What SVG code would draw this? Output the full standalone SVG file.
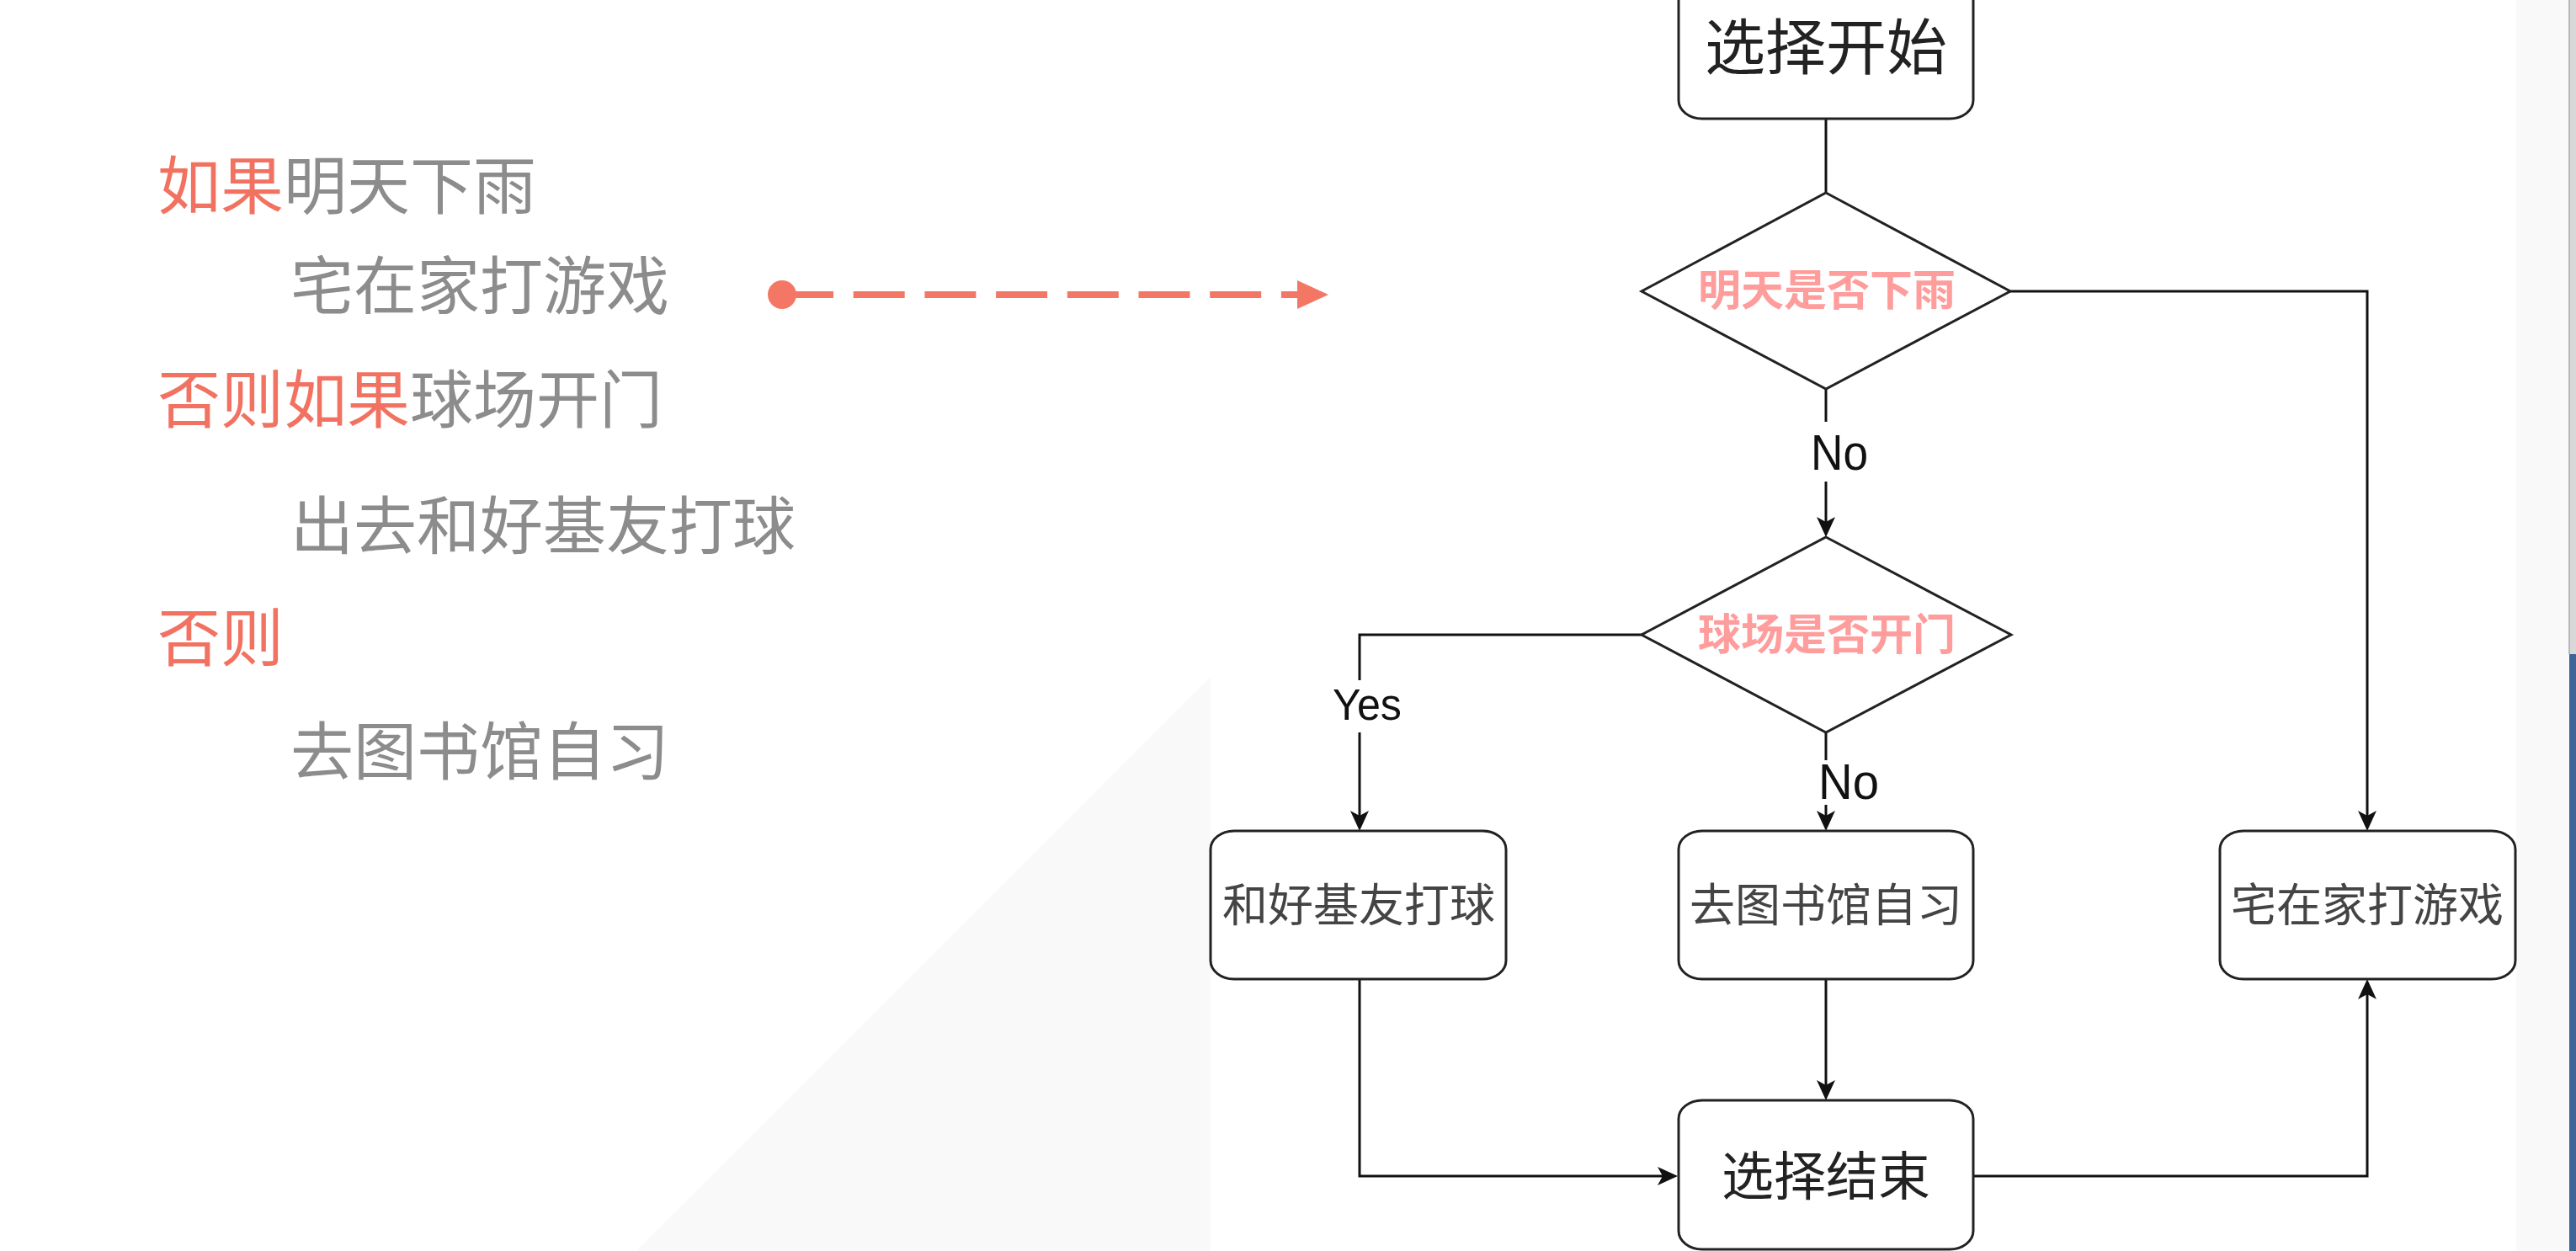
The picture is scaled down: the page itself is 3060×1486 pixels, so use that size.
<svg xmlns="http://www.w3.org/2000/svg" width="3060" height="1486" viewBox="0 0 3060 1486">
<defs>
<style>
.cn{font-family:"Noto Sans CJK SC","Noto Sans",sans-serif;}
.lt{font-size:75px;fill:#8C8C8C;}
.red{fill:#F27262;}
.box{fill:#FFFFFF;stroke:#222222;stroke-width:3;}
.dia{fill:#FFFFFF;stroke:#222222;stroke-width:3;}
.bt{font-size:54px;fill:#444444;text-anchor:middle;}
.dt{font-size:51px;fill:#FF9C9C;font-weight:bold;text-anchor:middle;}
.lbl{font-family:"Liberation Sans",Arial,sans-serif;fill:#111111;}
.ln{fill:none;stroke:#111111;stroke-width:3;}
.arr{marker-end:url(#ah);}
</style>
<marker id="ah" viewBox="0 0 24 24" markerWidth="24" markerHeight="24" refX="14" refY="12" orient="auto" markerUnits="userSpaceOnUse">
<path d="M0,1 L24,12 L0,23 L6,12 Z" fill="#111111"/>
</marker>
</defs>
<rect x="0" y="0" width="3060" height="1486" fill="#FFFFFF"/>
<polygon points="1438,804 1438,1486 756,1486" fill="#F9F9F9"/>
<rect x="2989" y="0" width="63" height="1486" fill="#F9F9F9"/>
<rect x="3052" y="0" width="8" height="777" fill="#D8D8D8"/>
<rect x="3052" y="777" width="8" height="709" fill="#3F6497"/>
<line x1="3052" y1="0" x2="3052" y2="777" stroke="#A8A8A8" stroke-width="1.5"/>

<g id="text-left" class="cn">
<text class="lt" x="187" y="248"><tspan class="red">如果</tspan>明天下雨</text>
<text class="lt" x="345" y="367">宅在家打游戏</text>
<text class="lt" x="187" y="502"><tspan class="red">否则如果</tspan>球场开门</text>
<text class="lt" x="345" y="652">出去和好基友打球</text>
<text class="lt" x="187" y="785"><tspan class="red">否则</tspan></text>
<text class="lt" x="345" y="920">去图书馆自习</text>
</g>

<g id="pointer">
<line x1="929" y1="350" x2="1541" y2="350" stroke="#F47766" stroke-width="8" stroke-dasharray="61 23.7"/>
<circle cx="929" cy="350" r="17" fill="#F47766"/>
<polygon points="1541,333 1578,350 1541,367" fill="#F47766"/>
</g>

<g id="connectors">
<path class="ln" d="M2169,141 L2169,229"/>
<path class="ln" d="M2169,462 L2169,501"/>
<path class="ln arr" d="M2169,572 L2169,628"/>
<path class="ln" d="M2388,346 L2812,346 L2812,977" marker-end="url(#ah)"/>
<path class="ln" d="M1950,754 L1615,754 L1615,808"/>
<path class="ln arr" d="M1615,870 L1615,977"/>
<path class="ln" d="M2169,870 L2169,903"/>
<path class="ln arr" d="M2169,956 L2169,977"/>
<path class="ln arr" d="M2169,1163 L2169,1297"/>
<path class="ln arr" d="M1615,1163 L1615,1397 L1983,1397"/>
<path class="ln arr" d="M2344,1397 L2812,1397 L2812,1173"/>
<text class="lbl" x="2151" y="558" font-size="60" textLength="68" lengthAdjust="spacingAndGlyphs">No</text>
<text class="lbl" x="2160" y="949" font-size="60" textLength="72" lengthAdjust="spacingAndGlyphs">No</text>
<text class="lbl" x="1583" y="855" font-size="51" textLength="82" lengthAdjust="spacingAndGlyphs">Yes</text>
</g>

<g id="node-start">
<rect class="box" x="1994" y="-36" width="350" height="177" rx="28" ry="22"/>
<text class="cn" x="2169" y="82" font-size="72" fill="#222222" text-anchor="middle">选择开始</text>
</g>
<g id="node-rain">
<polygon class="dia" points="2169,229 2388,346 2169,462 1950,346"/>
<text class="cn dt" x="2170" y="363">明天是否下雨</text>
</g>
<g id="node-court">
<polygon class="dia" points="2169,638 2389,754 2169,870 1950,754"/>
<text class="cn dt" x="2170" y="772">球场是否开门</text>
</g>
<g id="node-ball">
<rect class="box" x="1438" y="987" width="351" height="176" rx="28" ry="22"/>
<text class="cn bt" x="1614" y="1095">和好基友打球</text>
</g>
<g id="node-library">
<rect class="box" x="1994" y="987" width="350" height="176" rx="28" ry="22"/>
<text class="cn bt" x="2169" y="1095">去图书馆自习</text>
</g>
<g id="node-game">
<rect class="box" x="2637" y="987" width="351" height="176" rx="28" ry="22"/>
<text class="cn bt" x="2812" y="1095">宅在家打游戏</text>
</g>
<g id="node-end">
<rect class="box" x="1994" y="1307" width="350" height="177" rx="28" ry="22"/>
<text class="cn" x="2169" y="1420" font-size="62" fill="#222222" text-anchor="middle">选择结束</text>
</g>
</svg>
